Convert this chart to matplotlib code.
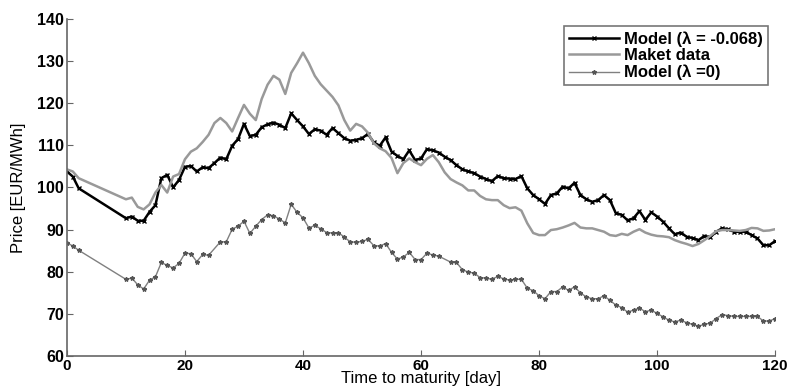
import matplotlib
matplotlib.use("Agg")
import matplotlib.pyplot as plt

# days shared by the model and the market series
days = [0, 1, 2] + list(range(10, 121))

model_lam = [103.8, 102.6, 99.8,
             92.7, 93.1, 92.1, 92.1, 94.2, 95.8, 102.2, 103.0, 100.0, 101.8,
             104.9, 105.1, 103.8, 104.8, 104.6, 105.8, 107.1, 106.7, 109.9, 111.5,
             115.1, 112.2, 112.5, 114.3, 115.0, 115.4, 114.9, 114.1, 117.6, 116.0,
             114.5, 112.7, 113.8, 113.5, 112.5, 114.1, 112.9, 111.7, 111.1, 111.3,
             111.7, 112.7, 110.7, 109.9, 111.9, 108.5, 107.5, 106.7, 108.8, 106.5,
             106.9, 109.1, 108.8, 108.3, 107.3, 106.5, 105.3, 104.3, 103.8, 103.4,
             102.6, 102.0, 101.5, 102.7, 102.2, 102.1, 102.0, 102.7, 99.8, 98.2,
             97.2, 96.1, 98.2, 98.6, 100.2, 99.8, 101.1, 98.2, 97.2, 96.6,
             97.0, 98.2, 97.0, 93.9, 93.5, 92.2, 92.7, 94.4, 92.3, 94.1,
             93.1, 91.9, 90.3, 88.9, 89.3, 88.3, 88.0, 87.5, 88.5, 88.2,
             89.5, 90.3, 90.1, 89.5, 89.5, 89.5, 88.7, 87.9, 86.3, 86.3, 87.3]

market = [104.3, 103.8, 102.2,
          97.2, 97.6, 95.4, 94.8, 96.0, 98.8, 100.6, 98.8, 102.6, 103.2,
          106.7, 108.5, 109.3, 110.8, 112.5, 115.3, 116.5, 115.3, 113.3, 116.5,
          119.6, 117.5, 116.0, 121.0, 124.4, 126.5, 125.6, 122.2, 127.2, 129.5,
          132.0, 129.5, 126.5, 124.5, 123.0, 121.5, 119.5, 116.0, 113.5, 115.1,
          114.5, 113.0, 110.5, 109.3, 108.6, 107.0, 103.4, 105.8, 106.9, 106.0,
          105.3, 106.8, 107.7, 106.0, 103.6, 102.0, 101.2, 100.5, 99.3, 99.3,
          98.0, 97.2, 97.0, 97.0, 95.8, 95.1, 95.3, 94.5, 91.5, 89.2,
          88.7, 88.7, 89.9, 90.1, 90.5, 91.0, 91.6, 90.5, 90.3, 90.3,
          89.9, 89.5, 88.7, 88.5, 89.0, 88.7, 89.5, 90.1, 89.3, 88.8,
          88.5, 88.4, 88.2, 87.5, 87.0, 86.6, 86.1, 86.6, 87.5, 88.5,
          89.6, 89.9, 89.9, 89.8, 89.7, 89.9, 90.4, 90.3, 89.7, 89.8, 90.1]

# the lambda = 0 model has a few missing days
days0 = [0, 1, 2] + list(range(10, 25)) + list(range(26, 64)) + list(range(65, 121))
model_0 = [86.9, 86.1, 85.1,
           78.2, 78.5, 76.9, 75.9, 78.0, 78.8, 82.2, 81.5, 80.9, 82.0,
           84.4, 84.3, 82.4, 84.1, 83.9,
           87.1, 87.1, 90.1, 90.8, 92.0, 89.1, 90.8, 92.4, 93.5, 93.3,
           92.5, 91.6, 96.0, 94.1, 92.8, 90.4, 91.0, 90.2, 89.3, 89.2,
           89.3, 88.2, 87.1, 87.0, 87.2, 87.7, 86.2, 86.1, 86.7, 84.6,
           83.0, 83.5, 84.6, 82.9, 82.9, 84.4, 84.0, 83.7,
           82.3, 82.2, 80.5, 79.9, 79.7, 78.6, 78.5, 78.2, 78.9, 78.3,
           78.0, 78.2, 78.2, 76.1, 75.5, 74.3, 73.6, 75.3, 75.3, 76.4,
           75.6, 76.4, 75.0, 74.0, 73.6, 73.6, 74.3, 73.2, 72.1, 71.5,
           70.4, 70.9, 71.4, 70.5, 70.9, 70.1, 69.3, 68.5, 68.1, 68.5,
           67.9, 67.5, 67.1, 67.5, 67.8, 68.9, 69.8, 69.6, 69.4, 69.4,
           69.4, 69.4, 69.4, 68.3, 68.3, 68.9]

xticks = [0, 20, 40, 60, 80, 100, 120]
yticks = [60, 70, 80, 90, 100, 110, 120, 130, 140]

plt.rcParams['font.family'] = ['Liberation Sans', 'DejaVu Sans']

fig = plt.figure(figsize=(7.87, 3.91), dpi=100)
ax = fig.add_axes([0.085, 0.0895, 0.9, 0.862])

ax.plot(days, model_lam, color='black', lw=1.8, marker='x', ms=3.5, mew=1,
        label='Model (\u03bb = -0.068)')
ax.plot(days, market, color='#999999', lw=1.8, label='Maket data')
ax.plot(days0, model_0, color='#808080', lw=1, marker='*', ms=3.2,
        mfc='#555555', mec='#555555', label='Model (\u03bb =0)')

ax.set_xlim(0, 120)
ax.set_ylim(60, 140)
ax.set_xticks(xticks)
ax.set_yticks(yticks)
ax.tick_params(direction='in', length=4, color='#666666', labelsize=11.5, pad=2)
ax.tick_params(axis='x', labelsize=11)
for lab in ax.get_xticklabels() + ax.get_yticklabels():
    lab.set_fontweight('bold')
ax.spines['top'].set_visible(False)
ax.spines['right'].set_visible(False)
ax.spines['left'].set_color('#666666')
ax.spines['bottom'].set_color('#666666')
ax.spines['left'].set_linewidth(1.2)
ax.spines['bottom'].set_linewidth(1.2)

ax.set_xlabel('Time to maturity [day]', fontsize=12, labelpad=-1)
ax.set_ylabel('Price [EUR/MWh]', fontsize=12, labelpad=8)

leg = ax.legend(loc='upper right', bbox_to_anchor=(0.99, 0.979), borderaxespad=0,
                fancybox=False, edgecolor='#777777', framealpha=1,
                handlelength=3.0, handletextpad=0.3, labelspacing=0.1,
                borderpad=0.3, prop={'weight': 'bold', 'size': 12})
leg.get_frame().set_linewidth(1.2)

fig.savefig('out.png', dpi=100)
